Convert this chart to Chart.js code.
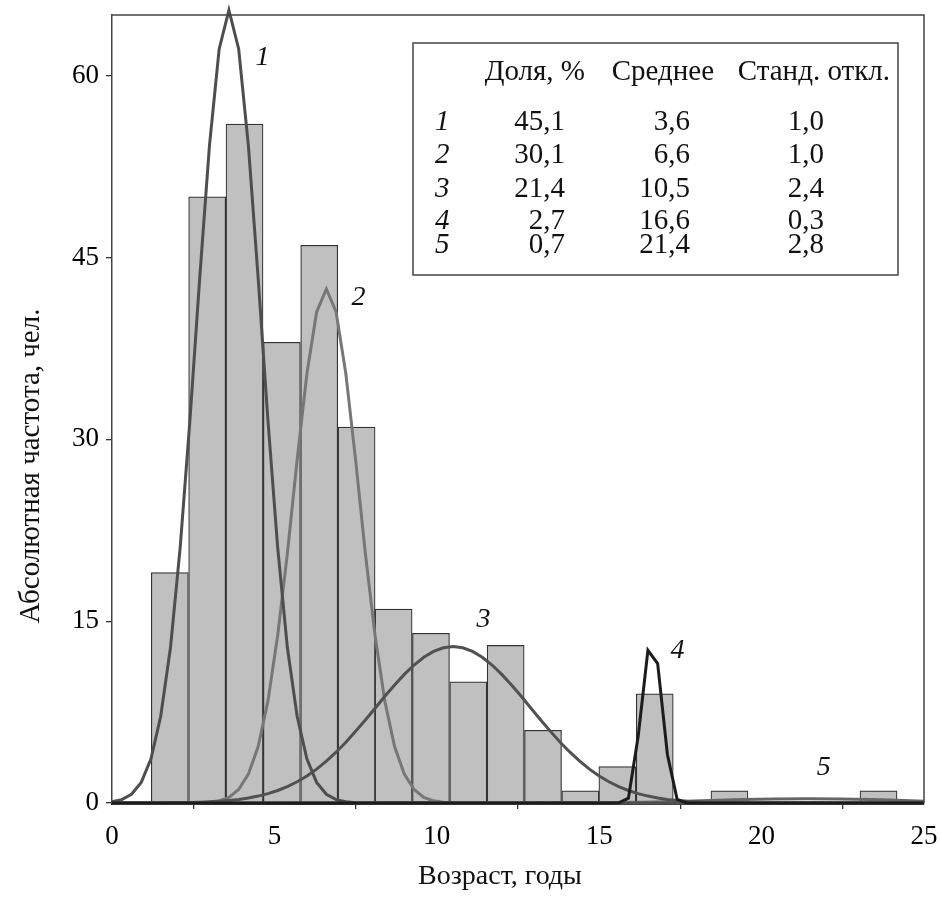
<!DOCTYPE html>
<html lang="ru">
<head>
<meta charset="utf-8">
<title>Возраст, годы</title>
<script src="https://cdn.jsdelivr.net/npm/chart.js@4.4.1/dist/chart.umd.min.js"></script>
<style>
  html, body { margin: 0; padding: 0; background: #fff; }
  canvas { display: block; }
</style>
</head>
<body>
<canvas id="ageChart" width="941" height="897"></canvas>
<script>
// Histogram: bin centres (years) and counts (persons)
const binCenters = [1.78, 2.93, 4.08, 5.23, 6.38, 7.53, 8.67, 9.82, 10.97, 12.12,
                    13.27, 14.42, 15.56, 16.71, 17.86, 19.01, 20.16, 21.31, 22.45, 23.60];
const binCounts = [19, 50, 56, 38, 46, 31, 16, 14, 10, 13,
                   6, 1, 3, 9, 0, 1, 0, 0, 0, 1];

// Fitted component curves 1..5
const curve1X = [0, 0.3, 0.6, 0.9, 1.2, 1.5, 1.8, 2.1, 2.4, 2.7, 3.0, 3.3, 3.6, 3.9, 4.2, 4.5,
                 4.8, 5.1, 5.4, 5.7, 6.0, 6.3, 6.6, 6.9, 7.2, 7.5, 7.8, 25];
const curve1Y = [0.10, 0.28, 0.72, 1.70, 3.64, 7.15, 12.8, 21.1, 31.6, 43.3, 54.2, 62.2, 65.4, 62.2, 54.2, 43.3,
                 31.6, 21.1, 12.8, 7.15, 3.64, 1.70, 0.72, 0.28, 0.10, 0.03, 0.01, 0];

const curve2X = [0, 2.7, 3.0, 3.3, 3.6, 3.9, 4.2, 4.5, 4.8, 5.1, 5.4, 5.7, 6.0, 6.3, 6.6,
                 6.9, 7.2, 7.5, 7.8, 8.1, 8.4, 8.7, 9.0, 9.3, 9.6, 9.9, 10.2, 10.5, 25];
const curve2Y = [0, 0.02, 0.07, 0.18, 0.47, 1.11, 2.38, 4.66, 8.40, 13.8, 20.6, 28.3, 35.4, 40.5, 42.4,
                 40.5, 35.4, 28.3, 20.6, 13.8, 8.40, 4.66, 2.38, 1.11, 0.47, 0.18, 0.07, 0.02, 0];

const curve3X = [0, 1.5, 1.8, 2.1, 2.4, 2.7, 3.0, 3.3, 3.6, 3.9, 4.2, 4.5, 4.8, 5.1, 5.4, 5.7, 6.0,
                 6.3, 6.6, 6.9, 7.2, 7.5, 7.8, 8.1, 8.4, 8.7, 9.0, 9.3, 9.6, 9.9, 10.2, 10.5,
                 10.8, 11.1, 11.4, 11.7, 12.0, 12.3, 12.6, 12.9, 13.2, 13.5, 13.8, 14.1, 14.4, 14.7,
                 15.0, 15.3, 15.6, 15.9, 16.2, 16.5, 16.8, 17.1, 17.4, 17.7, 18.0, 18.3, 18.6, 18.9,
                 19.2, 19.5, 25];
const curve3Y = [0, 0.01, 0.02, 0.03, 0.04, 0.07, 0.10, 0.14, 0.21, 0.29, 0.41, 0.57, 0.77, 1.03, 1.35, 1.75, 2.22,
                 2.79, 3.45, 4.19, 5.01, 5.91, 6.85, 7.82, 8.80, 9.74, 10.61, 11.38, 12.02, 12.50, 12.80, 12.90,
                 12.80, 12.50, 12.02, 11.38, 10.61, 9.74, 8.80, 7.82, 6.85, 5.91, 5.01, 4.19, 3.45, 2.79,
                 2.22, 1.75, 1.35, 1.03, 0.77, 0.57, 0.41, 0.29, 0.21, 0.14, 0.10, 0.07, 0.04, 0.03,
                 0.02, 0.01, 0];

const curve4X = [0, 15.3, 15.6, 15.9, 16.2, 16.5, 16.8, 17.1, 17.4, 17.7, 18.0, 25];
const curve4Y = [0, 0, 0.02, 0.4, 5.5, 12.6, 11.5, 4.0, 0.3, 0.01, 0, 0];

const curve5X = [0, 14.4, 15.4, 16.4, 17.4, 18.4, 19.4, 20.4, 21.4, 22.4, 23.4, 24.4, 25];
const curve5Y = [0, 0.02, 0.04, 0.07, 0.13, 0.20, 0.28, 0.34, 0.36, 0.34, 0.28, 0.20, 0.15];

// Curve labels: text and position in data units
const curveLabels = ['1', '2', '3', '4', '5'];
const curveLabelX = [4.63, 7.59, 11.44, 17.41, 21.91];
const curveLabelY = [61.5, 41.7, 15.1, 12.6, 2.95];

// Parameter table
const tableHeaders = ['Доля, %', 'Среднее', 'Станд. откл.'];
const componentIds = ['1', '2', '3', '4', '5'];
const shares = ['45,1', '30,1', '21,4', '2,7', '0,7'];
const means = ['3,6', '6,6', '10,5', '16,6', '21,4'];
const stdDevs = ['1,0', '1,0', '2,4', '0,3', '2,8'];

const SERIF = "'Liberation Serif', 'Times New Roman', serif";

function toPoints(xs, ys) {
    return xs.map((x, i) => ({ x: x, y: ys[i] }));
}

function curve(xs, ys, color, order) {
    return {
        type: 'line',
        data: toPoints(xs, ys),
        borderColor: color,
        borderWidth: 3,
        pointRadius: 0,
        tension: 0,
        fill: false,
        clip: false,
        order: order
    };
}

// Frame, table, curve numbers and axis titles
const decorations = {
    id: 'decorations',
    afterDraw(chart) {
        const ctx = chart.ctx;
        const area = chart.chartArea;
        const xs = chart.scales.x;
        const ys = chart.scales.y;
        ctx.save();

        // top and right frame lines
        ctx.strokeStyle = '#444';
        ctx.lineWidth = 1.5;
        ctx.beginPath();
        ctx.moveTo(area.left, area.top);
        ctx.lineTo(area.right, area.top);
        ctx.lineTo(area.right, area.bottom);
        ctx.stroke();

        // table box
        ctx.fillStyle = '#fff';
        ctx.fillRect(413, 43, 485, 232);
        ctx.strokeRect(413, 43, 485, 232);

        ctx.fillStyle = '#111';
        ctx.font = '29px ' + SERIF;
        ctx.textBaseline = 'alphabetic';
        ctx.textAlign = 'right';
        ctx.fillText(tableHeaders[0], 585, 80);
        ctx.fillText(tableHeaders[1], 714, 80);
        ctx.fillText(tableHeaders[2], 890, 80);

        const rowY = [130, 163, 197, 229, 253];
        componentIds.forEach((id, i) => {
            ctx.font = 'italic 29px ' + SERIF;
            ctx.textAlign = 'left';
            ctx.fillText(id, 435, rowY[i]);
            ctx.font = '29px ' + SERIF;
            ctx.textAlign = 'right';
            ctx.fillText(shares[i], 565, rowY[i]);
            ctx.fillText(means[i], 690, rowY[i]);
            ctx.fillText(stdDevs[i], 824, rowY[i]);
        });

        // curve numbers
        ctx.font = 'italic 28px ' + SERIF;
        ctx.textAlign = 'center';
        ctx.textBaseline = 'middle';
        curveLabels.forEach((t, i) => {
            ctx.fillText(t, xs.getPixelForValue(curveLabelX[i]), ys.getPixelForValue(curveLabelY[i]));
        });

        // axis titles
        ctx.font = '28px ' + SERIF;
        ctx.textBaseline = 'alphabetic';
        ctx.fillText('Возраст, годы', 500, 884);
        ctx.font = '29px ' + SERIF;
        ctx.translate(39, 466);
        ctx.rotate(-Math.PI / 2);
        ctx.fillText('Абсолютная частота, чел.', 0, 0);
        ctx.restore();
    }
};

const ctx = document.getElementById('ageChart').getContext('2d');
new Chart(ctx, {
    type: 'bar',
    data: {
        datasets: [
            curve(curve4X, curve4Y, '#1c1c1c', 1),
            curve(curve1X, curve1Y, '#4e4e4e', 2),
            curve(curve3X, curve3Y, '#515151', 3),
            curve(curve2X, curve2Y, '#777777', 4),
            curve(curve5X, curve5Y, '#666666', 5),
            {
                type: 'bar',
                data: toPoints(binCenters, binCounts),
                backgroundColor: '#c0c0c0',
                borderColor: '#333',
                borderWidth: 1.2,
                borderSkipped: 'start',
                categoryPercentage: 1,
                barPercentage: 1,
                order: 10
            }
        ]
    },
    options: {
        responsive: false,
        animation: false,
        events: [],
        layout: { padding: { top: 15, right: 17, left: 0, bottom: 0 } },
        plugins: {
            legend: { display: false },
            tooltip: { enabled: false }
        },
        scales: {
            x: {
                type: 'linear',
                min: 0,
                max: 25,
                offset: false,
                ticks: {
                    stepSize: 5,
                    includeBounds: false,
                    maxRotation: 0,
                    color: '#000',
                    padding: 12,
                    font: { family: SERIF, size: 27 }
                },
                grid: { drawOnChartArea: false, drawTicks: true, tickLength: 6, color: '#333', lineWidth: 1.3 },
                border: { display: true, color: '#222', width: 3 },
                afterFit(scale) {
                    scale.height = 94;
                    scale.paddingLeft = 0;
                    scale.paddingRight = 0;
                }
            },
            y: {
                min: 0,
                max: 65,
                ticks: {
                    stepSize: 15,
                    includeBounds: false,
                    color: '#000',
                    padding: 7,
                    font: { family: SERIF, size: 27 }
                },
                grid: { drawOnChartArea: false, drawTicks: true, tickLength: 6, color: '#333', lineWidth: 1.3 },
                border: { display: true, color: '#444', width: 1.5 },
                afterFit(scale) {
                    scale.width = 112;
                    scale.paddingTop = 0;
                    scale.paddingBottom = 0;
                }
            }
        }
    },
    plugins: [decorations]
});
</script>
</body>
</html>
